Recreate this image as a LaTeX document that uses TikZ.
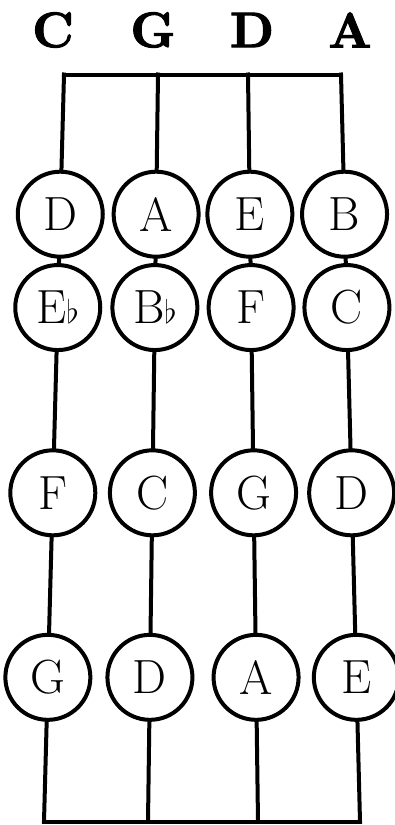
\documentclass[tikz,border=0pt]{standalone}
\usepackage{fontspec}
\newfontfamily\tunefont[FakeBold=2]{lmroman10-bold.otf}
\usetikzlibrary{positioning, calc}
\tikzset{
  note/.style={circle, draw, line width=4pt, fill=white, minimum size=85pt, inner sep=0pt, font=\fontsize{48}{48}\selectfont},
  strg/.style={line width=4pt, line cap=rect},
  tuning/.style={font=\tunefont\fontsize{50}{50}\selectfont}
}
\newcommand{\flt}{\scalebox{1.3}{$\flat$}}

\begin{document}
\begin{tikzpicture}[x=1pt, y=-1pt]
\useasboundingbox (0,0) rectangle (394,825);
% open strings at the nut and at the bridge
\foreach \s/\xt/\xb in {c/64/44, g/158/148, d/248/258, a/341/360} {
    \coordinate (\s-top) at (\xt,74.5);
    \coordinate (\s-bot) at (\xb,821.5);
}
\draw[strg] (c-top) -- (a-top);
\draw[strg] (c-bot) -- (a-bot);
% tuning of the strings
\node[tuning] (cname) at (53,30) {C};
\node[tuning] (gname) at (153,30) {G};
\node[tuning] (dname) at (252,30) {D};
\node[tuning] (aname) at (350,30) {A};
% stopped notes
\foreach \s/\na/\nb/\nc/\nd in {c/D/E\flt/F/G, g/A/B\flt/C/D, d/E/F/G/A, a/B/C/D/E} {
    \node[note] (\s1) at ($(\s-top)!0.187!(\s-bot)$) {\na};
    \node[note] (\s2) at ($(\s-top)!0.312!(\s-bot)$) {\nb};
    \node[note] (\s3) at ($(\s-top)!0.560!(\s-bot)$) {\nc};
    \node[note] (\s4) at ($(\s-top)!0.807!(\s-bot)$) {\nd};
    \draw[strg] (\s-top) -- (\s1);
    \draw[strg] (\s1) -- (\s2);
    \draw[strg] (\s2) -- (\s3);
    \draw[strg] (\s3) -- (\s4);
    \draw[strg] (\s4) -- (\s-bot);
}
\end{tikzpicture}
\end{document}
